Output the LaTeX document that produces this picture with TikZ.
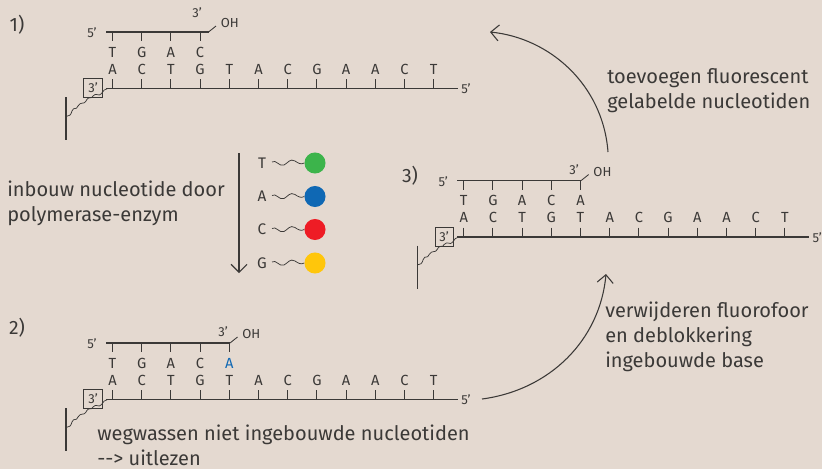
\documentclass[tikz,border=0pt]{standalone}
\usepackage{fontspec}
\setmainfont{Fira Sans}
\usetikzlibrary{arrows.meta}
\definecolor{bgc}{HTML}{E4D9D0}
\definecolor{ink}{HTML}{3B3937}
\definecolor{cblue}{HTML}{0F68B4}
\definecolor{cgreen}{HTML}{3CB44B}
\definecolor{cred}{HTML}{EE1C25}
\definecolor{cyel}{HTML}{FFC60B}
\tikzset{
  strand/.style={draw=ink,line width=0.9pt},
  tick/.style={draw=ink,line width=0.65pt},
  thin wave/.style={draw=ink,line width=0.55pt},
  base/.style={text=ink,font=\fontsize{11pt}{12pt}\selectfont,inner sep=0pt},
  small/.style={text=ink,font=\fontsize{9.8pt}{11pt}\selectfont,inner sep=0pt},
  label/.style={text=ink,font=\fontsize{15pt}{18.6pt}\selectfont,inner sep=0pt,align=left,anchor=west},
  num/.style={text=ink,font=\fontsize{14.5pt}{15pt}\selectfont,inner sep=0pt},
  bigarrow/.style={draw=ink,line width=0.8pt,-{Straight Barb[length=6pt,width=12pt,line width=0.8pt]}},
  dot/.style={circle,inner sep=0pt,minimum size=15.8pt},
}
% #1 prefix, #2 dx, #3 dy, #4 top strand end x, #5 3' x, #6 3' y, #7 top letters
\newcommand{\panel}[7]{%
  \begin{scope}[shift={(#2,#3)}]
    \coordinate (#1bl) at (106,88.5);
    \coordinate (#1br) at (458,88.5);
    \coordinate (#1tl) at (106,32);
    \coordinate (#1tr) at (#4,32);
    \coordinate (#1te) at (#4+7.5,26);
    \coordinate (#1pa) at (66,97);
    \coordinate (#1pb) at (66,140);
    \draw[strand] (#1bl) -- (#1br);
    \draw[strand] (#1tl) -- (#1tr);
    \draw[tick] (#1tr) -- (#1te);
    \draw[strand] (#1pa) -- (#1pb);
    \foreach \b [count=\i from 0] in {A,C,T,G,T,A,C,G,A,A,C,T}{
      \pgfmathsetmacro{\xx}{112.5+29.2*\i}
      \coordinate (#1bt\i) at (\xx,79);
      \coordinate (#1bb\i) at (\xx,88.5);
      \draw[tick] (#1bt\i) -- (#1bb\i);
      \node[base] (#1b\i) at (\xx,69) {\b};
    }
    \foreach \b/\c [count=\i from 0] in {#7}{
      \pgfmathsetmacro{\xx}{112.5+29.2*\i}
      \coordinate (#1tt\i) at (\xx,32);
      \coordinate (#1tb\i) at (\xx,41);
      \draw[tick] (#1tt\i) -- (#1tb\i);
      \node[base,text=\c] (#1t\i) at (\xx,52) {\b};
    }
    \node[small] (#1five) at (92,33) {5'};
    \node[small] (#1three) at (#5,#6) {3'};
    \node[small,anchor=west] (#1oh) at (#4+12,23) {OH};
    \node[small] (#1right) at (466,89) {5'};
    \node[small,draw=ink,line width=0.5pt,minimum width=14pt,minimum height=14pt,inner sep=0pt] (#1box) at (93,88) {3'};
    \draw[thin wave] (107.5,88.5) .. controls (104,88.5) and (104,91) .. (101,94)
      .. controls (99,97) and (96,92) .. (93,96)
      .. controls (91,100) and (89,95) .. (86,101)
      .. controls (84,105) and (81,101) .. (78,106)
      .. controls (76,111) and (74,106) .. (72,111)
      .. controls (71,115) and (69,116.5) .. (66.5,116.3);
  \end{scope}}
% molecule: #1 name, #2 y, #3 letter, #4 colour
\newcommand{\molecule}[4]{%
  \node[base,font=\fontsize{11.5pt}{12pt}\selectfont] (#1l) at (262,#2) {#3};
  \node[dot,fill=#4] (#1d) at (315,#2) {};
  \coordinate (#1s) at (272,#2-1);
  \draw[thin wave] (#1s) .. controls (276,#2-4) and (279,#2+4) .. (284,#2+2)
     .. controls (288,#2) and (290,#2-5) .. (295,#2-2)
     .. controls (298,#2) and (301,#2+2) .. (#1d.west);
}
\begin{document}
\begin{tikzpicture}[x=0.75pt,y=-0.75pt]
  \useasboundingbox (0,0) rectangle (822,469);
  \fill[bgc] (0,0) rectangle (822,469);

  \panel{p}{0}{0}{208.5}{197}{13}{T/ink,G/ink,A/ink,C/ink}
  \panel{q}{0}{311}{230}{223}{21}{T/ink,G/ink,A/ink,C/ink,A/cblue}
  \panel{r}{351.2}{148.5}{230}{223}{21}{T/ink,G/ink,A/ink,C/ink,A/ink}

  \node[num] (n1) at (17,25) {1)};
  \node[num] (n2) at (17,328) {2)};
  \node[num] (n3) at (410,176) {3)};

  \molecule{mt}{163}{T}{cgreen}
  \molecule{ma}{196.5}{A}{cblue}
  \molecule{mc}{229.5}{C}{cred}
  \molecule{mg}{263}{G}{cyel}

  \coordinate (vs) at (239,153);
  \coordinate (ve) at (239,273);
  \draw[bigarrow] (vs) -- (ve);

  \coordinate (ts) at (608,152);
  \coordinate (te) at (490,32);
  \draw[bigarrow] (ts) .. controls (603,85) and (550,38) .. (te);

  \coordinate (bs) at (482,399);
  \coordinate (be) at (606,274);
  \draw[bigarrow] (bs) .. controls (550,390) and (600,340) .. (be);

  \node[label] (linb) at (7,203) {inbouw nucleotide door\\polymerase-enzym};
  \node[label,anchor=north west] (lwas) at (97,425) {wegwassen niet ingebouwde nucleotiden\\-{}-> uitlezen};
  \node[label] (ltoe) at (607,91) {toevoegen fluorescent\\gelabelde nucleotiden};
  \node[label] (lver) at (605,337) {verwijderen fluorofoor\\en deblokkering\\ingebouwde base};
\end{tikzpicture}
\end{document}
